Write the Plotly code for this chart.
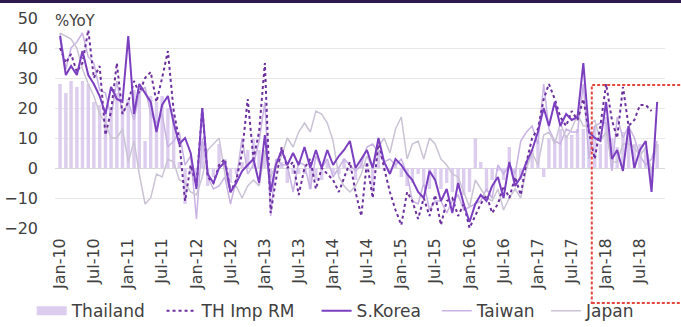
import pandas as pd
import plotly.graph_objects as go

# Monthly observations, Jan-2010 .. Oct-2018
months = pd.date_range("2010-01-01", periods=106, freq="MS")

thailand = [
    28, 25, 29, 27, 29, 28, 22, 21, 20, 19, 25, 20,
    23, 26, 25, 9, 24, 22, 24, 20, 18, 2, -12, -2,
    -5, 9, -6, -3, 8, 3, -5, -2, 2, 6, 10, 6,
    5, -4, 1, 2, -5, -2, -2, -2, -7, -4, -4, 2,
    -2, -2, 3, -1, -4, 3, -1, -8, 6, -1, -1, 2,
    -3, -6, -5, -2, -5, -7, -4, -7, -5, -8, -7, -9,
    -8, 10, 2, -8, -4, -1, -4, 7, -6, -4, 2, 6,
    9, -3, 10, 9, 13, 11, 11, 13, 13, 13, 14, 8,
    17, 10, 7, 12, 11, 8, 8, 6, -5, 8,
]

th_imp_rm = [
    40, 35, 38, 32, 35, 46, 30, 34, 11, 19, 35, 18,
    22, 29, 25, 30, 32, 22, 30, 39, 19, 9, -11, 1,
    -6, 20, -3, -5, 1, 3, -8, -4, 5, 23, 3, 12,
    35, -15, -4, 7, 0, 2, -9, 0, 3, -7, 0, -2,
    -4, -8, -3, 2, -8, -16, 2, -10, 9, 0, -8, -14,
    -19, -8, -11, -17, -10, -16, -9, -19, -11, -10, -16, -12,
    -20, -16, -12, -9, -15, -12, -6, -10, -3, -9, 2, 10,
    13, 23, 28, 23, 17, 14, 19, 16, 23, 12, 3, 14,
    28, 16, 10, 27, 14, 16, 21, 21, 19, None,
]

s_korea = [
    44, 31, 34, 31, 39, 31, 28, 24, 18, 27, 23, 22,
    44, 18, 28, 25, 22, 12, 21, 24, 15, 8, 10, 5,
    -7, 20, -2, -5, 0, 2, -8, -5, -1, 1, 3, -5,
    11, -8, 1, 6, 1, 5, 1, 7, 0, 6, 0, 6,
    1, 4, 6, 9, 0, 3, 6, 0, 10, 2, -2, 3,
    1, -2, -4, -8, -10, -1, -4, -11, -7, -15, -5, -12,
    -18, -12, -9, -11, -6, -3, -10, 2, -6, -3, 2, 6,
    12, 20, 14, 22, 14, 18, 16, 17, 35, 12, 10, 9,
    22, 3, 6, -1, 14, 0, 6, 9, -8, 22,
]

taiwan = [
    45, 33, 40, 42, 45, 37, 35, 26, 25, 17, 29, 18,
    22, 16, 25, 27, 18, 15, 18, 7, 9, 12, 1, 4,
    -17, 10, -3, -7, -6, -3, -12, -4, 10, -2, 1, 9,
    22, -16, 3, 1, 1, -8, 2, 1, -7, 4, 0, 3,
    -3, 0, 3, 1, -1, 1, 7, 8, 5, 2, 3, 1,
    3, -2, -11, -12, -5, -14, -11, -11, -15, -11, -9, -14,
    -13, -12, -11, -7, -10, 1, -2, 1, -2, 9, 12, 14,
    8, 28, 13, 9, 8, 13, 12, 12, 28, 3, 14, 15,
    15, -1, 17, 10, 14, 10, 4, 1, 3, 9,
]

japan = [
    45, 44, 43, 40, 33, 28, 24, 18, 15, 10, 10, 13,
    2, 9, -2, -12, -10, -2, -3, 3, 2, -4, -5, -8,
    -9, -3, 6, 8, 10, -2, -8, -6, -10, -6, -4, -6,
    6, -3, 1, 4, 10, 7, 12, 15, 12, 19, 18, 15,
    9, -3, -6, -8, -6, -2, 4, 0, 7, 10, 5, 13,
    17, 3, 8, 9, 3, 10, 8, 3, 1, -2, -3, -8,
    -13, -4, -7, -10, -11, -7, -14, -10, -7, -10, 0, 5,
    1, 11, 12, 8, 15, 10, 13, 18, 14, 14, 16, 9,
    12, 2, 2, 8, 8, 7, 4, 7, -1, 8,
]

FONT = "DejaVu Sans"
TXT = "#404040"
BAR_C = "#dccdef"
IMP_C = "#6b2f9e"
KOR_C = "#7b3fc0"
TWN_C = "#c9b3e3"
JPN_C = "#cac3d4"

NB = "\u00a0"  # non-breaking space used to pad legend entries

fig = go.Figure()

# drawing order: bars, light lines, then the two dark series on top
fig.add_trace(go.Bar(x=months, y=thailand, marker_color=BAR_C, marker_line_width=0,
                     name="Thailand", showlegend=False))
fig.add_trace(go.Scatter(x=[None], y=[None], mode="lines", name="Thailand" + NB * 2,
                         line=dict(color=BAR_C, width=9), legendrank=1))
fig.add_trace(go.Scatter(x=months, y=taiwan, mode="lines", name="Taiwan" + NB,
                         line=dict(color=TWN_C, width=1.5), legendrank=4))
fig.add_trace(go.Scatter(x=months, y=japan, mode="lines", name="Japan",
                         line=dict(color=JPN_C, width=1.5), legendrank=5))
fig.add_trace(go.Scatter(x=months, y=th_imp_rm, mode="lines", name="TH Imp RM" + NB * 3,
                         line=dict(color=IMP_C, width=2, dash="dot"), legendrank=2))
fig.add_trace(go.Scatter(x=months, y=s_korea, mode="lines", name="S.Korea" + NB * 2,
                         line=dict(color=KOR_C, width=2), legendrank=3))

fig.update_layout(
    width=681, height=327,
    margin=dict(l=55, r=16, t=18, b=99, autoexpand=False),
    paper_bgcolor="white", plot_bgcolor="white",
    font=dict(family=FONT, size=16, color=TXT),
    bargap=0.35,
    showlegend=True,
    legend=dict(orientation="h", x=0.493, xanchor="center", xref="container",
                y=0.048, yanchor="middle", yref="container",
                font=dict(size=17, color=TXT), traceorder="normal",
                tracegroupgap=0, bgcolor="rgba(0,0,0,0)"),
    xaxis=dict(
        type="date", automargin=False,
        range=["2009-12-05", "2018-11-12"],
        tick0="2010-01-01", dtick="M6", tickformat="%b-%y",
        tickangle=-90, showgrid=False, zeroline=False, showline=False,
        ticks="", ticklabelstandoff=6, tickfont=dict(size=16, color=TXT),
    ),
    yaxis=dict(
        range=[-20, 50], dtick=10, automargin=False,
        showgrid=True, gridcolor="#e8e8e8", gridwidth=1,
        zeroline=True, zerolinecolor="#d8d8d8", zerolinewidth=1,
        showline=False, ticks="", ticklabelstandoff=16, tickfont=dict(size=16, color=TXT),
    ),
    annotations=[dict(text="%YoY", xref="paper", yref="paper", x=-0.004, y=0.985,
                      xanchor="left", yanchor="middle", showarrow=False,
                      font=dict(size=15, color=TXT))],
    shapes=[
        dict(type="rect", xref="paper", yref="paper", x0=-0.2, x1=1.2, y0=1.071, y1=1.2,
             fillcolor="#2e1a4e", line_width=0, layer="above"),
        dict(type="rect", xref="paper", yref="paper", x0=0.880, x1=1.2, y0=-0.357, y1=0.681,
             line=dict(color="#e5463e", width=2, dash="3px,2px"), layer="above"),
    ],
)

fig.write_html("out.html")
